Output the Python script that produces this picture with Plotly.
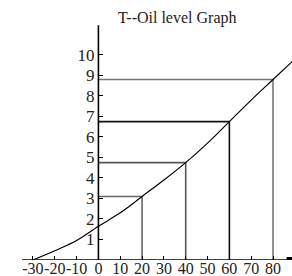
import plotly.graph_objects as go

# ---- data ----
title_text = "T--Oil level Graph"
temp = [-30, -20, -10, 0, 10, 20, 30, 40, 50, 60, 70, 80, 89]
level = [0.0, 0.45, 0.95, 1.65, 2.3, 3.1, 3.9, 4.75, 5.7, 6.75, 7.8, 8.8, 9.7]
ref_temp = [20, 40, 60, 80]
ref_level = [3.1, 4.75, 6.75, 8.8]
ref_colors = ["#666666", "#555555", "#111111", "#777777"]
x_ticks = [-30, -20, -10, 0, 10, 20, 30, 40, 50, 60, 70, 80]
x_ticktext = ["-30", "-20", "-10", "0", "10", "20", "30", "40", "50", "60", "70", "80"]
y_ticks = [1, 2, 3, 4, 5, 6, 7, 8, 9, 10]

W, H = 292, 276
FONT = "Liberation Serif"

x_range = [-45.1, 88.7]
y_range = [0, 12.68]
x_axis_start, x_axis_end = -35.0, 86.5
y_axis_top = 11.45

fig = go.Figure()

# reference guide lines (horizontal from y-axis, vertical to x-axis)
for t, l, c in zip(ref_temp, ref_level, ref_colors):
    fig.add_trace(go.Scatter(x=[0, t, t], y=[l, l, 0], mode="lines",
                             line=dict(color=c, width=1.6),
                             hoverinfo="skip", showlegend=False))

# curve
fig.add_trace(go.Scatter(x=temp, y=level, mode="lines",
                         line=dict(color="black", width=1.2, shape="spline"),
                         showlegend=False))

# axis lines
fig.add_shape(type="line", x0=x_axis_start, x1=x_axis_end, y0=0, y1=0,
              line=dict(color="black", width=1.6))
fig.add_shape(type="line", x0=0, x1=0, y0=0, y1=y_axis_top,
              line=dict(color="black", width=1.6))
# arrow head at end of x axis
fig.add_trace(go.Scatter(x=[x_axis_end + 1.1], y=[0], mode="markers",
                         marker=dict(symbol="square", size=6, color="black"),
                         hoverinfo="skip", showlegend=False))

x0_frac = (0 - x_range[0]) / (x_range[1] - x_range[0])

fig.update_layout(
    width=W, height=H,
    margin=dict(l=0, r=0, t=0, b=16, autoexpand=False),
    paper_bgcolor="white", plot_bgcolor="white",
    font=dict(family=FONT, size=16, color="#222222"),
    xaxis=dict(range=x_range, showgrid=False, zeroline=False, showline=False,
               automargin=False, tickangle=0,
               tickvals=x_ticks, ticktext=x_ticktext, ticks="inside",
               ticklen=4, tickwidth=1, tickcolor="black", ticklabelstandoff=-3,
               tickfont=dict(family=FONT, size=16, color="#222222")),
    yaxis=dict(range=y_range, showgrid=False, zeroline=False, showline=False,
               anchor="free", position=x0_frac, automargin=False,
               tickvals=y_ticks, ticks="inside", ticklen=4, tickwidth=1,
               tickcolor="black", ticklabelstandoff=4,
               tickfont=dict(family=FONT, size=17, color="#222222")),
    annotations=[dict(text=title_text, xref="paper", yref="paper",
                      x=177 / W, y=1 - 18 / 260, xanchor="center", yanchor="middle",
                      showarrow=False,
                      font=dict(family=FONT, size=16, color="#222222"))],
)

fig.write_html("out.html", config={"displayModeBar": False},
               post_script="document.body.style.margin='0';document.body.style.padding='0';")
